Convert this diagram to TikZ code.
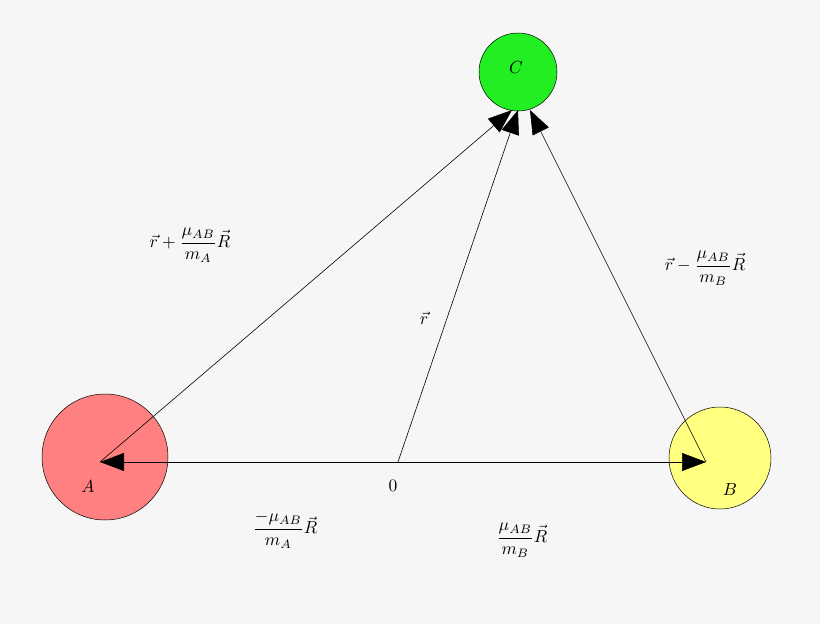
\documentclass[tikz,border=0pt]{standalone}
\usepackage{amsmath}
\usepackage{graphicx}
\usetikzlibrary{arrows.meta}
\newcommand{\bigtxt}[1]{\scalebox{1.75}{#1}}
\begin{document}
\begin{tikzpicture}[x=1pt,y=-1pt,
  ball/.style={circle,draw=black,line width=0.5pt,inner sep=0pt},
  vec/.style={line width=0.6pt,-{Triangle[length=24pt,width=18pt]}},
  lbl/.style={inner sep=1pt}]
\useasboundingbox[fill={rgb,255:red,246;green,246;blue,246}] (0,0) rectangle (820,624);
\node[ball,fill={rgb,255:red,255;green,128;blue,128},minimum size=126pt] (A) at (105,457) {};
\node[ball,fill={rgb,255:red,255;green,255;blue,128},minimum size=102pt] (B) at (720,458) {};
\node[ball,fill={rgb,255:red,34;green,238;blue,34},minimum width=78pt,minimum height=72pt] (C) at (518,72) {};
\coordinate (O) at (398,462);
\coordinate (Ap) at (100,462);
\coordinate (Bp) at (706,462);
\coordinate (Cl) at (512,110);
\coordinate (Cm) at (518,110);
\coordinate (Cr) at (530,110);
\draw[vec] (O) -- (Ap);
\draw[vec] (O) -- (Bp);
\draw[vec] (Ap) -- (Cl);
\draw[vec] (O) -- (Cm);
\draw[vec] (Bp) -- (Cr);
\node[lbl] (lA) at (88,487) {\bigtxt{$A$}};
\node[lbl] (lB) at (730,490) {\bigtxt{$B$}};
\node[lbl] (lC) at (516,68) {\bigtxt{$C$}};
\node[lbl] (l0) at (393,486) {\bigtxt{$0$}};
\node[lbl] (lr) at (424,318) {\bigtxt{$\vec r$}};
\node[lbl] (l1) at (190,245) {\bigtxt{$\vec r+\dfrac{\mu_{AB}}{m_A}\vec R$}};
\node[lbl] (l2) at (705,268) {\bigtxt{$\vec r-\dfrac{\mu_{AB}}{m_B}\vec R$}};
\node[lbl] (l3) at (285,530) {\bigtxt{$\dfrac{-\mu_{AB}}{m_A}\vec R$}};
\node[lbl] (l4) at (522,540) {\bigtxt{$\dfrac{\mu_{AB}}{m_B}\vec R$}};
\end{tikzpicture}
\end{document}
